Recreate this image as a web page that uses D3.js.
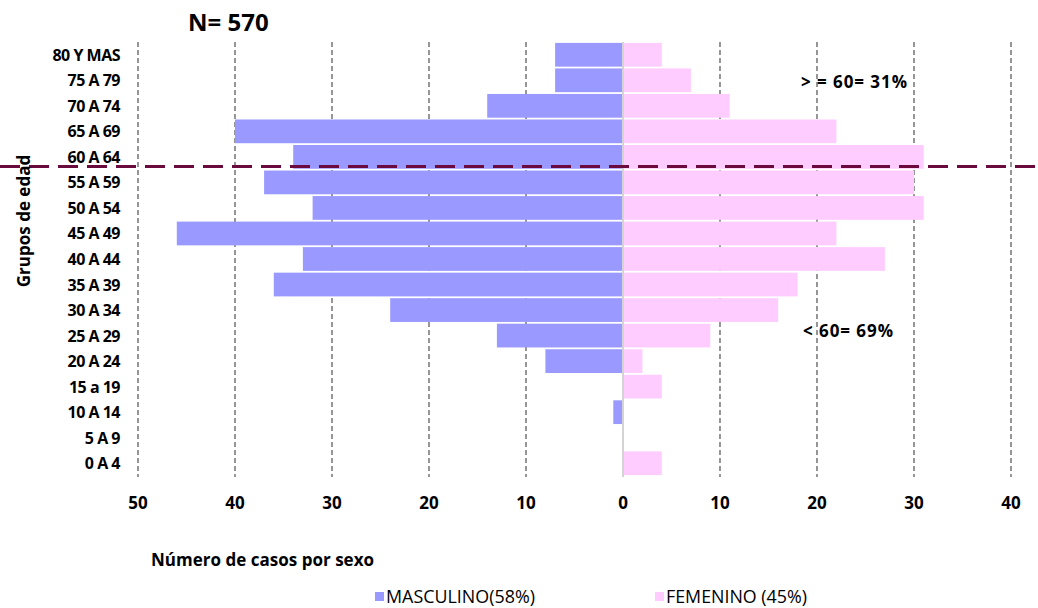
<!DOCTYPE html>
<html>
<head>
<meta charset="utf-8">
<script src="https://cdn.jsdelivr.net/npm/d3@7"></script>
<style>
  body { margin: 0; background: #fff; }
  text { font-family: "Open Sans", sans-serif; fill: #000; }
</style>
</head>
<body>
<script>
var w = 1038; // Width of the chart
var h = 608;  // Height of the chart

// Age groups, top to bottom
var grupos = ["80 Y MAS", "75 A 79", "70 A 74", "65 A 69", "60 A 64", "55 A 59", "50 A 54",
              "45 A 49", "40 A 44", "35 A 39", "30 A 34", "25 A 29", "20 A 24", "15 a 19",
              "10 A 14", "5 A 9", "0 A 4"];
// Cases per sex
var masculino = [7, 7, 14, 40, 34, 37, 32, 46, 33, 36, 24, 13, 8, 0, 1, 0, 0];
var femenino  = [4, 7, 11, 22, 31, 30, 31, 22, 27, 18, 16, 9, 2, 4, 0, 0, 4];
// Axis ticks (left side shown as absolute values)
var ticks = [-50, -40, -30, -20, -10, 0, 10, 20, 30, 40];

var svg = d3.select("body").append("svg")
    .attr("width", w)
    .attr("height", h);

// Scales
var xScale = d3.scaleLinear()
    .domain([-50, 40])
    .range([138, 1011]);

var yScale = d3.scaleBand()
    .domain(grupos)
    .range([42, 476])
    .paddingInner(0.07)
    .paddingOuter(0.035);

// Dashed gridlines
svg.append("g")
    .selectAll("line")
    .data(ticks.filter(function(d) { return d !== 0; }))
    .join("line")
    .attr("x1", function(d) { return xScale(d); })
    .attr("x2", function(d) { return xScale(d); })
    .attr("y1", 42)
    .attr("y2", 477)
    .attr("stroke", "#6a6a6a")
    .attr("stroke-width", 1.4)
    .attr("stroke-dasharray", "5,3");

// Male bars (to the left)
svg.append("g")
    .selectAll("rect")
    .data(masculino)
    .join("rect")
    .attr("x", function(d) { return xScale(-d); })
    .attr("y", function(d, i) { return yScale(grupos[i]); })
    .attr("width", function(d) { return xScale(0) - xScale(-d); })
    .attr("height", yScale.bandwidth())
    .attr("fill", "#9999ff");

// Female bars (to the right)
svg.append("g")
    .selectAll("rect")
    .data(femenino)
    .join("rect")
    .attr("x", xScale(0))
    .attr("y", function(d, i) { return yScale(grupos[i]); })
    .attr("width", function(d) { return xScale(d) - xScale(0); })
    .attr("height", yScale.bandwidth())
    .attr("fill", "#ffccff");

// Zero line
svg.append("line")
    .attr("x1", xScale(0)).attr("x2", xScale(0))
    .attr("y1", 42).attr("y2", 477)
    .attr("stroke", "#d4d4d4")
    .attr("stroke-width", 2);

// Category labels
svg.append("g")
    .selectAll("text")
    .data(grupos)
    .join("text")
    .attr("x", 120)
    .attr("y", function(d) { return yScale(d) + yScale.bandwidth() / 2 + 6; })
    .attr("text-anchor", "end")
    .style("font-size", "16px")
    .style("font-weight", "bold")
    .style("letter-spacing", "-0.5px")
    .text(function(d) { return d; });

// Tick labels
svg.append("g")
    .selectAll("text")
    .data(ticks)
    .join("text")
    .attr("x", function(d) { return xScale(d); })
    .attr("y", 509)
    .attr("text-anchor", "middle")
    .style("font-size", "17px")
    .style("font-weight", "bold")
    .text(function(d) { return Math.abs(d); });

// 60 years split line
var yCorte = yScale("55 A 59") - 4;
svg.append("line")
    .attr("x1", 0).attr("x2", w)
    .attr("y1", yCorte).attr("y2", yCorte)
    .attr("stroke", "#6b0a3c")
    .attr("stroke-width", 3)
    .attr("stroke-dasharray", "20,9");

// Title
svg.append("text")
    .attr("x", 188)
    .attr("y", 31)
    .style("font-size", "24px")
    .style("font-weight", "bold")
    .text("N= 570");

// Annotations
svg.append("text")
    .attr("x", 801)
    .attr("y", 88)
    .style("font-size", "17px")
    .style("font-weight", "bold")
    .attr("textLength", 106)
    .text("> = 60= 31%");

svg.append("text")
    .attr("x", 803)
    .attr("y", 337)
    .style("font-size", "17px")
    .style("font-weight", "bold")
    .attr("textLength", 90)
    .text("< 60= 69%");

// Axis titles
svg.append("text")
    .attr("transform", "translate(30,221) rotate(-90)")
    .attr("text-anchor", "middle")
    .style("font-size", "17px")
    .style("font-weight", "bold")
    .text("Grupos de edad");

svg.append("text")
    .attr("x", 151)
    .attr("y", 566)
    .style("font-size", "17px")
    .style("font-weight", "bold")
    .attr("textLength", 223)
    .text("Número de casos por sexo");

// Legend
var legend = [
    { label: "MASCULINO(58%)", color: "#9999ff", x: 375, len: 149 },
    { label: "FEMENINO (45%)", color: "#ffccff", x: 655, len: 141 }
];
var lg = svg.append("g")
    .selectAll("g")
    .data(legend)
    .join("g")
    .attr("transform", function(d) { return "translate(" + d.x + ",0)"; });
lg.append("rect")
    .attr("x", 0).attr("y", 592)
    .attr("width", 9).attr("height", 9)
    .attr("fill", function(d) { return d.color; });
lg.append("text")
    .attr("x", 11)
    .attr("y", 603)
    .style("font-size", "18px")
    .attr("textLength", function(d) { return d.len; })
    .attr("lengthAdjust", "spacingAndGlyphs")
    .text(function(d) { return d.label; });
</script>
</body>
</html>
